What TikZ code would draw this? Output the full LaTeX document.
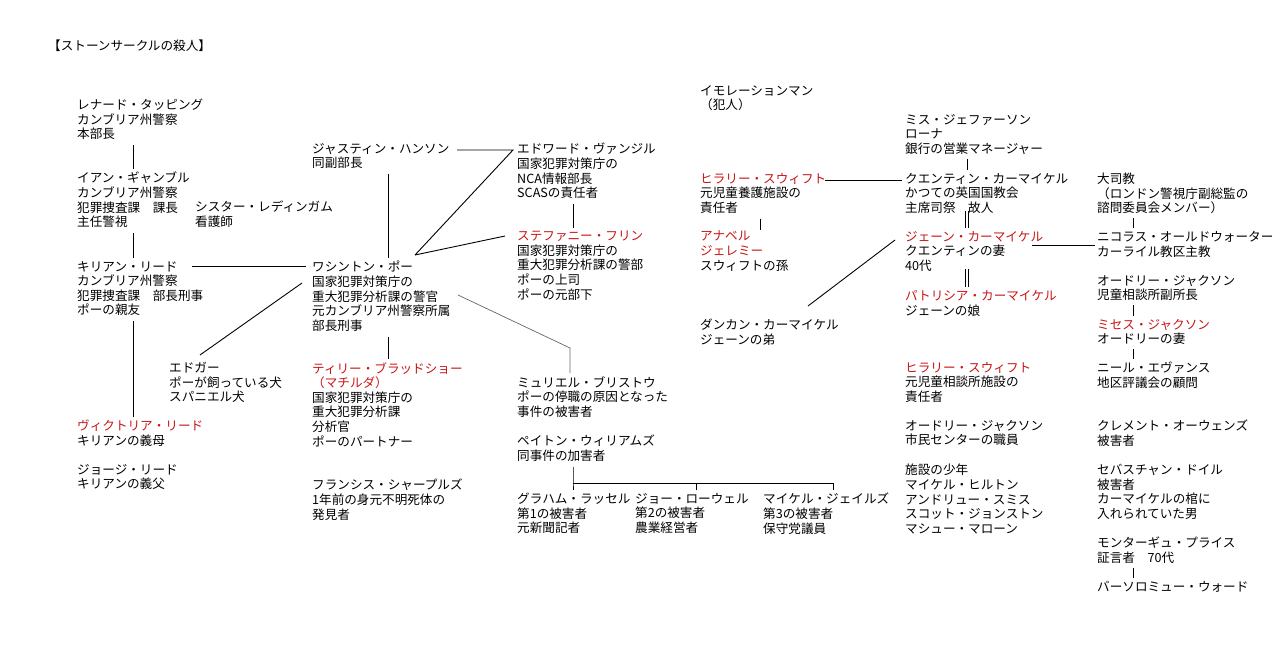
\documentclass[tikz,border=0pt]{standalone}
\usepackage{fontspec}
\usetikzlibrary{calc}
\setmainfont{Noto Sans CJK JP}
\definecolor{myred}{RGB}{200,20,20}
\begin{document}
\begin{tikzpicture}[x=1pt,y=-1pt,
 t/.style={anchor=north west,inner sep=0pt,align=left,font=\fontsize{12.6}{14.6}\selectfont},
 ln/.style={draw=black,line width=0.9pt},
 gl/.style={draw=gray!80!black,line width=0.7pt}]
\useasboundingbox (0,0) rectangle (1280,647);
\newcommand{\R}[1]{\textcolor{myred}{#1}}
\def\n(#1,#2,#3)#4{\node[t] (#1) at (#2,#3-7) {#4};}
\n(title,48,47){【ストーンサークルの殺人】}
\n(leonard,77,106){レナード・タッピング\\カンブリア州警察\\本部長}
\n(ian,77,179){イアン・ギャンブル\\カンブリア州警察\\犯罪捜査課　課長\\主任警視}
\n(sister,195,208){シスター・レディンガム\\看護師}
\n(kilian,77,268){キリアン・リード\\カンブリア州警察\\犯罪捜査課　部長刑事\\ポーの親友}
\n(edgar,169,369){エドガー\\ポーが飼っている犬\\スパニエル犬}
\n(victoria,77,427){\R{ヴィクトリア・リード}\\キリアンの義母}
\n(george,77,471){ジョージ・リード\\キリアンの義父}
\n(justin,312,150){ジャスティン・ハンソン\\同副部長}
\n(poe,312,268){ワシントン・ポー\\国家犯罪対策庁の\\重大犯罪分析課の警官\\元カンブリア州警察所属\\部長刑事}
\n(tilly,312,369){\R{ティリー・ブラッドショー}\\\R{（マチルダ）}\\国家犯罪対策庁の\\重大犯罪分析課\\分析官\\ポーのパートナー}
\n(francis,312,486){フランシス・シャープルズ\\1年前の身元不明死体の\\発見者}
\n(edward,517,150){エドワード・ヴァンジル\\国家犯罪対策庁の\\NCA情報部長\\SCASの責任者}
\n(stephanie,517,238){\R{ステファニー・フリン}\\国家犯罪対策庁の\\重大犯罪分析課の警部\\ポーの上司\\ポーの元部下}
\n(muriel,517,383){ミュリエル・ブリストウ\\ポーの停職の原因となった\\事件の被害者}
\n(peyton,517,442){ペイトン・ウィリアムズ\\同事件の加害者}
\n(graham,517,500){グラハム・ラッセル\\第1の被害者\\元新聞記者}
\n(joe,635,500){ジョー・ローウェル\\第2の被害者\\農業経営者}
\n(michael,763,500){マイケル・ジェイルズ\\第3の被害者\\保守党議員}
\n(immo,700,92){イモレーションマン\\（犯人）}
\n(hilary,700,180){\R{ヒラリー・スウィフト}\\元児童養護施設の\\責任者}
\n(anabel,700,238){\R{アナベル}\\\R{ジェレミー}\\スウィフトの孫}
\n(duncan,700,326){ダンカン・カーマイケル\\ジェーンの弟}
\n(jeff,905,121){ミス・ジェファーソン\\ローナ\\銀行の営業マネージャー}
\n(quentin,905,180){クエンティン・カーマイケル\\かつての英国国教会\\主席司祭　故人}
\n(jane,905,238){\R{ジェーン・カーマイケル}\\クエンティンの妻\\40代}
\n(patricia,905,297){\R{パトリシア・カーマイケル}\\ジェーンの娘}
\n(hilary2,905,369){\R{ヒラリー・スウィフト}\\元児童相談所施設の\\責任者}
\n(audrey2,905,427){オードリー・ジャクソン\\市民センターの職員}
\n(boys,905,471){施設の少年\\マイケル・ヒルトン\\アンドリュー・スミス\\スコット・ジョンストン\\マシュー・マローン}
\n(arch,1097,180){大司教\\（ロンドン警視庁副総監の\\諮問委員会メンバー）}
\n(nicholas,1097,238){ニコラス・オールドウォーター\\カーライル教区主教}
\n(audrey,1097,282){オードリー・ジャクソン\\児童相談所副所長}
\n(mrs,1097,326){\R{ミセス・ジャクソン}\\オードリーの妻}
\n(neil,1097,369){ニール・エヴァンス\\地区評議会の顧問}
\n(clement,1097,427){クレメント・オーウェンズ\\被害者}
\n(sebastian,1097,471){セバスチャン・ドイル\\被害者\\カーマイケルの棺に\\入れられていた男}
\n(montague,1097,544){モンターギュ・プライス\\証言者　70代}
\n(bart,1097,588){バーソロミュー・ウォード}
% vertical connectors from node to node
\draw[ln] ($(leonard.south west)+(56,5)$) -- ($(ian.north west)+(56,-3)$);
\draw[ln] ($(ian.south west)+(56,5)$) -- ($(kilian.north west)+(56,-3)$);
\draw[ln] ($(kilian.south west)+(56,5)$) -- ($(victoria.north west)+(56,-3)$);
\draw[ln] ($(justin.south west)+(76,5)$) -- ($(poe.north west)+(76,-3)$);
\draw[ln] ($(poe.south west)+(76,5)$) -- ($(tilly.north west)+(76,-3)$);
\draw[ln] ($(edward.south west)+(56,5)$) -- ($(stephanie.north west)+(56,-3)$);
\draw[ln] ($(hilary.south west)+(60,5)$) -- ($(anabel.north west)+(60,-1)$);
\draw[ln] ($(jeff.south west)+(62,4)$) -- ($(quentin.north west)+(62,-3)$);
\foreach \dx in {60.5,63.5}{
 \draw[ln] ($(quentin.north west)+(\dx,38)$) -- ($(jane.north west)+(\dx,-3)$);
 \draw[ln] ($(jane.north west)+(\dx,38)$) -- ($(patricia.north west)+(\dx,-3)$);
}
\draw[ln] ($(arch.south west)+(36,4)$) -- ($(nicholas.north west)+(36,-3)$);
\draw[ln] ($(audrey.south west)+(36,4)$) -- ($(mrs.north west)+(36,-3)$);
\draw[ln] ($(mrs.south west)+(36,4)$) -- ($(neil.north west)+(36,-3)$);
\draw[ln] ($(montague.south west)+(36,4)$) -- ($(bart.north west)+(36,-3)$);
% horizontal / diagonal
\draw[ln] ($(kilian.north west)+(115,5)$) -- ($(poe.north west)+(-6,5)$);
\draw[ln] ($(poe.north west)+(-10,22)$) -- ($(edgar.north west)+(31,-7)$);
\draw[ln] ($(justin.north west)+(145,7)$) -- ($(edward.north west)+(-4,7)$) -- ($(poe.north west)+(103,-6)$);
\draw[ln] ($(stephanie.north west)+(-12,5)$) -- ($(poe.north west)+(103,-6)$);
\draw[gl] ($(poe.north west)+(146,34)$) -- ($(muriel.north west)+(53,-28)$) -- ($(muriel.north west)+(53,-3)$);
\draw[ln] ($(peyton.south west)+(56,5)$) -- ($(graham.north west)+(56,-10)$) coordinate (b)
  -- ($(graham.north west)+(56,-3)$);
\draw[ln] (b) -- ($(michael.north west)+(70,-10)$) -- ($(michael.north west)+(70,-3)$);
\draw[ln] ($(joe.north west)+(61,-10)$) -- ($(joe.north west)+(61,-3)$);
\draw[ln] ($(hilary.north west)+(125,7)$) -- ($(quentin.north west)+(-3,7)$);
\draw[ln] ($(jane.north west)+(-10,9)$) -- ($(duncan.north west)+(108,-13)$);
\draw[ln] ($(jane.north west)+(127,14)$) -- ($(nicholas.north west)+(-2,14)$);
\end{tikzpicture}
\end{document}
